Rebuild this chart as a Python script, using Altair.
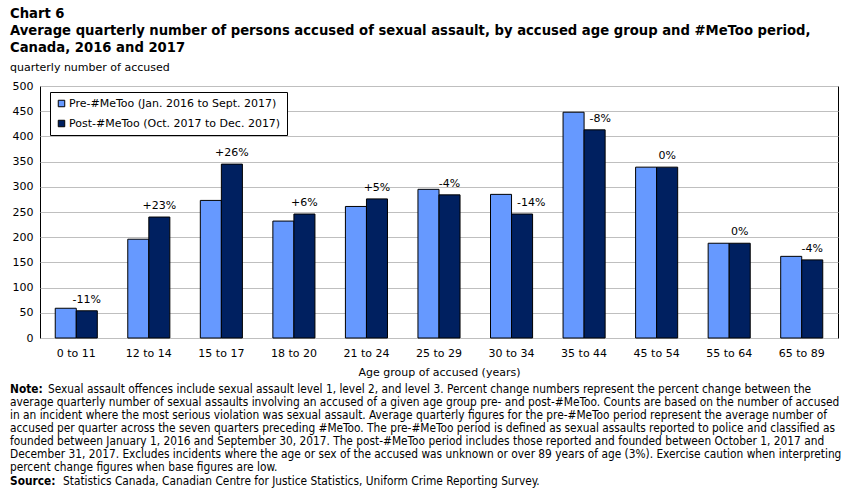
import altair as alt
import pandas as pd

groups = ["0 to 11", "12 to 14", "15 to 17", "18 to 20", "21 to 24", "25 to 29",
          "30 to 34", "35 to 44", "45 to 54", "55 to 64", "65 to 89"]
pre_values = [59, 196, 273, 232, 261, 295, 285, 448, 339, 188, 162]
post_values = [54, 240, 345, 246, 276, 284, 246, 413, 339, 188, 155]
pct_labels = ["-11%", "+23%", "+26%", "+6%", "+5%", "-4%", "-14%", "-8%", "0%", "0%", "-4%"]
series = ["Pre-#MeToo (Jan. 2016 to Sept. 2017)", "Post-#MeToo (Oct. 2017 to Dec. 2017)"]
colors = ["#6699FF", "#002060"]
y_ticks = [0, 50, 100, 150, 200, 250, 300, 350, 400, 450, 500]

title_lines = ["Chart 6",
               "Average quarterly number of persons accused of sexual assault, by accused age group and #MeToo period,",
               "Canada, 2016 and 2017"]
subtitle = "quarterly number of accused"
x_title = "Age group of accused (years)"
note_first = "Sexual assault offences include sexual assault level 1, level 2, and level 3. Percent change numbers represent the percent change between the"
note_rest = [
    "average quarterly number of sexual assaults involving an accused of a given age group pre- and post-#MeToo. Counts are based on the number of accused",
    "in an incident where the most serious violation was sexual assault. Average quarterly figures for the pre-#MeToo period represent the average number of",
    "accused per quarter across the seven quarters preceding #MeToo. The pre-#MeToo period is defined as sexual assaults reported to police and classified as",
    "founded between January 1, 2016 and September 30, 2017. The post-#MeToo period includes those reported and founded between October 1, 2017 and",
    "December 31, 2017. Excludes incidents where the age or sex of the accused was unknown or over 89 years of age (3%). Exercise caution when interpreting",
    "percent change figures when base figures are low.",
]
source_text = "Statistics Canada, Canadian Centre for Justice Statistics, Uniform Crime Reporting Survey."

rows = []
for g, a, b in zip(groups, pre_values, post_values):
    rows.append({"group": g, "series": series[0], "value": a})
    rows.append({"group": g, "series": series[1], "value": b})
df = pd.DataFrame(rows)
lab = pd.DataFrame({"group": groups, "series": series[1], "value": post_values,
                    "pre": pre_values, "label": pct_labels})

FONT = "DejaVu Sans"
NOTE_FONT = "DejaVu Sans Condensed, Liberation Sans Narrow, Liberation Sans"
NOTE_SIZE = 11.8

y_axis = alt.Axis(title=None, values=y_ticks, ticks=False, domain=False,
                  labelPadding=7, labelFontSize=11, grid=True,
                  gridColor="#BFBFBF", gridWidth=1)
y_scale = alt.Scale(domain=[0, 500], nice=False)

x_enc = alt.X("group:N", sort=groups,
              scale=alt.Scale(domain=groups, paddingInner=0.42, paddingOuter=0.21),
              axis=alt.Axis(title=x_title, labelAngle=0, ticks=False, domain=False,
                            labelPadding=9, titlePadding=8, titleFontWeight="normal",
                            titleFontSize=11, labelFontSize=11, grid=False))
xoff = alt.XOffset("series:N", sort=series,
                   scale=alt.Scale(domain=series, paddingInner=0, paddingOuter=0))

bars = alt.Chart(df).mark_bar(stroke="black", strokeWidth=1).encode(
    x=x_enc, xOffset=xoff,
    y=alt.Y("value:Q", scale=y_scale, axis=y_axis),
    color=alt.Color("series:N", sort=series,
                    scale=alt.Scale(domain=series, range=colors),
                    legend=alt.Legend(title=None, orient="none", legendX=10, legendY=6,
                                      strokeColor="black", padding=6, rowPadding=8,
                                      symbolType="square", symbolSize=42,
                                      symbolStrokeColor="black", symbolStrokeWidth=1,
                                      labelFontSize=11, labelFont=FONT, labelOffset=2,
                                      labelColor="black", fillColor="white", labelLimit=400)),
)

lab_enc = dict(x=alt.X("group:N", sort=groups), xOffset=alt.XOffset("series:N", sort=series),
               y=alt.Y("value:Q", scale=y_scale, axis=y_axis), text="label:N")

labels_centered = alt.Chart(lab).transform_filter(
    "datum.pre - datum.value <= 20").mark_text(
    font=FONT, fontSize=11, dy=-11, color="black").encode(**lab_enc)
labels_shifted = alt.Chart(lab).transform_filter(
    "datum.pre - datum.value > 20").mark_text(
    font=FONT, fontSize=11, dy=-11, dx=-5, align="left", color="black").encode(**lab_enc)

one = alt.Data(values=[{}])
note_bold = alt.Chart(one).mark_text(text="Note:", font=NOTE_FONT, fontSize=NOTE_SIZE, fontWeight="bold",
                                     align="left", baseline="middle", color="black").encode(
    x=alt.value(-30), y=alt.value(303))
note_line1 = alt.Chart(one).mark_text(text=note_first, font=NOTE_FONT, fontSize=NOTE_SIZE,
                                      align="left", baseline="middle", color="black").encode(
    x=alt.value(8), y=alt.value(303))
note_body = alt.Chart(one).mark_text(text=note_rest, font=NOTE_FONT, fontSize=NOTE_SIZE, lineHeight=13,
                                     align="left", baseline="middle", color="black").encode(
    x=alt.value(-30), y=alt.value(316))
src_bold = alt.Chart(one).mark_text(text="Source:", font=NOTE_FONT, fontSize=NOTE_SIZE, fontWeight="bold",
                                    align="left", baseline="middle", color="black").encode(
    x=alt.value(-30), y=alt.value(395))
src_text = alt.Chart(one).mark_text(text=source_text, font=NOTE_FONT, fontSize=NOTE_SIZE,
                                    align="left", baseline="middle", color="black").encode(
    x=alt.value(23), y=alt.value(395))

chart = alt.layer(bars, labels_centered, labels_shifted, note_bold, note_line1, note_body,
                  src_bold, src_text).properties(
    width=798, height=252,
    autosize=alt.AutoSizeParams(type="none"),
    padding={"left": 40, "top": 86, "right": 14, "bottom": 150},
    title=alt.TitleParams(text=title_lines, subtitle=subtitle, anchor="start", frame="group",
                          dx=-30, font=FONT, fontSize=13.2, fontWeight="bold", lineHeight=17,
                          color="black", subtitleFont=FONT, subtitleFontSize=11,
                          subtitleColor="black", subtitlePadding=7, offset=6),
).configure_view(stroke="black", strokeWidth=1).configure_axis(
    labelColor="black", titleColor="black", labelFont=FONT, titleFont=FONT)

chart.save("out.html", embed_options={"renderer": "svg", "actions": False})
